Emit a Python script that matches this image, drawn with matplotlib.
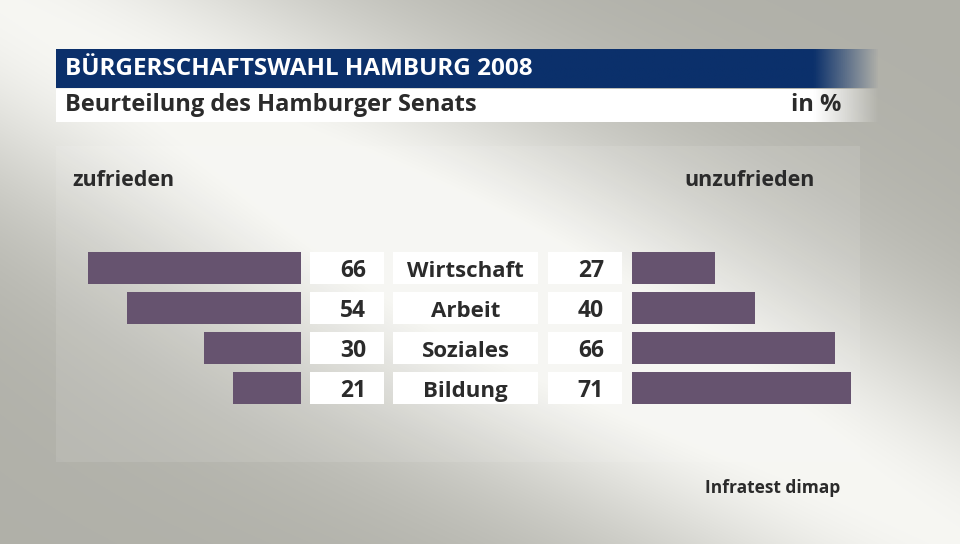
import numpy as np
import matplotlib.pyplot as plt
from matplotlib import font_manager

categories = ["Wirtschaft", "Arbeit", "Soziales", "Bildung"]
zufrieden = [66, 54, 30, 21]
unzufrieden = [27, 40, 66, 71]
title = "BÜRGERSCHAFTSWAHL HAMBURG 2008"
subtitle = "Beurteilung des Hamburger Senats"
unit = "in %"
left_label = "zufrieden"
right_label = "unzufrieden"
source = "Infratest dimap"

names = {f.name for f in font_manager.fontManager.ttflist}
FONT = "Liberation Sans Narrow" if "Liberation Sans Narrow" in names else "Open Sans"
plt.rcParams['font.family'] = [FONT, 'DejaVu Sans']

W, H = 960, 544
BAR = "#66536f"
TXT = "#2b2b2b"
fig = plt.figure(figsize=(W / 100, H / 100), dpi=100)

def ax_at(x0, x1, y0, y1):
    a = fig.add_axes([x0 / W, 1 - y1 / H, (x1 - x0) / W, (y1 - y0) / H])
    a.axis('off')
    return a

# background gradient
bg = ax_at(0, W, 0, H)
bg.set_xlim(0, W); bg.set_ylim(H, 0)
yy, xx = np.mgrid[0:H, 0:W]
ang = np.arctan2(544, 960)
d = np.abs(-xx * np.sin(ang) + yy * np.cos(ang))
w = np.exp(-(d / 170.0) ** 2)
w = np.clip(w + 0.15 * np.exp(-(((xx - 470) / 350) ** 2 + ((yy - 300) / 200) ** 2)), 0, 1)
gray = np.array([0.69, 0.69, 0.66]); light = np.array([0.965, 0.965, 0.95])
img = gray[None, None, :] * (1 - w[..., None]) + light[None, None, :] * w[..., None]
bg.imshow(img, extent=(0, W, H, 0), aspect='auto', zorder=0)

# panel
bg.add_patch(plt.Rectangle((56, 146), 804, 316, color='white', alpha=0.1, lw=0, zorder=1))

# title bars with fade on the right
def fade_bar(x0, x1, y0, y1, color, fade_start):
    n = 400
    xs = np.linspace(x0, x1, n)
    alpha = np.clip((x1 - xs) / (x1 - fade_start), 0, 1)
    rgba = np.zeros((1, n, 4))
    rgba[..., :3] = np.array(plt.matplotlib.colors.to_rgb(color))
    rgba[0, :, 3] = alpha
    bg.imshow(rgba, extent=(x0, x1, y1, y0), aspect='auto', zorder=2)

fade_bar(56, 880, 49, 88, "#0b306b", 815)
fade_bar(56, 880, 89, 122, "#ffffff", 815)
bg.set_xlim(0, W); bg.set_ylim(H, 0)
bg.text(65, 69, title, color='white', fontsize=17.5, fontweight='bold', va='center', ha='left', zorder=3)
bg.text(65, 105, subtitle, color=TXT, fontsize=17, fontweight='bold', va='center', ha='left', zorder=3)
bg.text(841, 105, unit, color=TXT, fontsize=17, fontweight='bold', va='center', ha='right', zorder=3)
bg.text(72, 180, left_label, color=TXT, fontsize=15.5, fontweight='bold', va='center', ha='left', zorder=3)
bg.text(815, 180, right_label, color=TXT, fontsize=15.5, fontweight='bold', va='center', ha='right', zorder=3)
bg.text(840, 488, source, color=TXT, fontsize=12.5, fontweight='bold', va='center', ha='right', zorder=3)

rows = np.arange(len(categories))
BH = 0.78

# left bars
axl = ax_at(56, 301, 248, 408)
axl.barh(rows, zufrieden, height=BH, color=BAR)
axl.set_xlim(245 / 3.22, 0); axl.set_ylim(3.5, -0.5)

# right bars
axr = ax_at(632, 860, 248, 408)
axr.barh(rows, unzufrieden, height=BH, color=BAR)
axr.set_xlim(0, 228 / 3.08); axr.set_ylim(3.5, -0.5)

# middle boxes and labels
axm = ax_at(0, W, 248, 408)
axm.set_xlim(0, W); axm.set_ylim(3.5, -0.5)
axm.barh(rows, 74, left=310, height=BH, color='white')
axm.barh(rows, 145, left=393, height=BH, color='white')
axm.barh(rows, 74, left=548, height=BH, color='white')
for i in rows:
    axm.text(366, i + 0.08, str(zufrieden[i]), ha='right', va='center', fontsize=16.5, fontweight='bold', color=TXT)
    axm.text(465.5, i + 0.08, categories[i], ha='center', va='center', fontsize=16, fontweight='bold', color=TXT)
    axm.text(604, i + 0.08, str(unzufrieden[i]), ha='right', va='center', fontsize=16.5, fontweight='bold', color=TXT)

fig.savefig("out.png", dpi=100)
